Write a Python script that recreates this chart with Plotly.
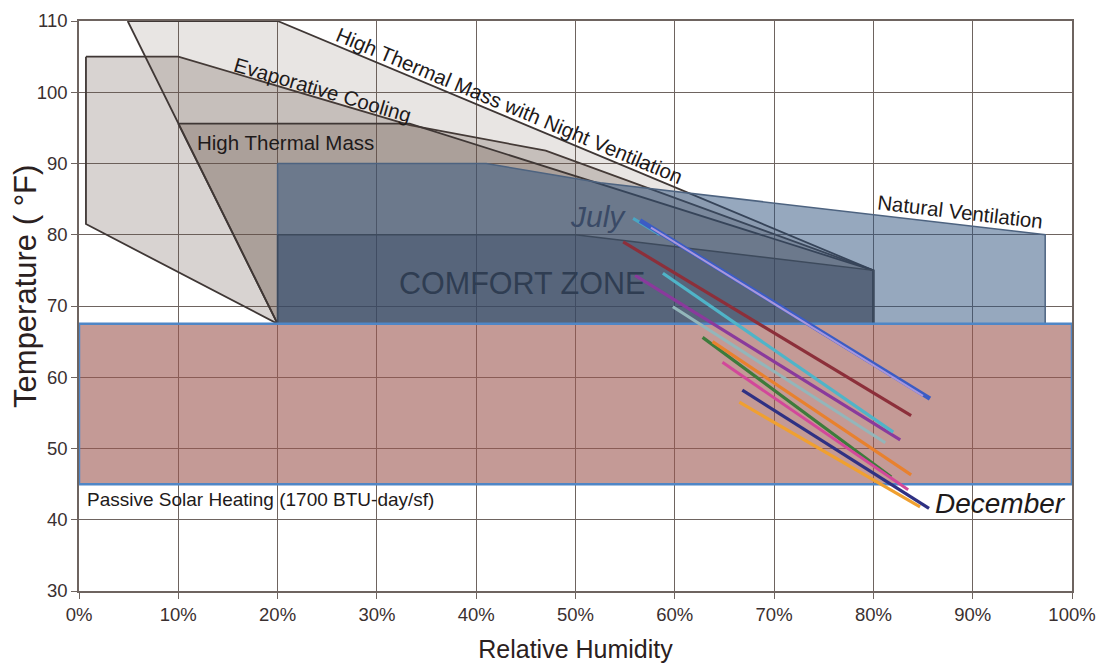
import plotly.graph_objects as go

# ---------------- data ----------------
# Zone boundaries: relative humidity (%) and temperature (°F)
evap_rh = [0.7, 10, 33.3, 47, 80, 80, 20, 0.7]
evap_t = [105, 105, 95.4, 91.8, 75, 67.5, 67.5, 81.5]

night_vent_rh = [4.9, 20, 80, 80, 20]
night_vent_t = [110, 110, 75, 67.5, 67.5]

thermal_mass_rh = [10, 33.3, 80, 80, 20]
thermal_mass_t = [95.6, 95.6, 75, 67.5, 67.5]

natural_vent_rh = [20, 41, 52.5, 97.3, 97.3, 20]
natural_vent_t = [90, 90, 87.3, 80, 67.5, 67.5]

comfort_rh = [20, 50, 80, 80, 20]
comfort_t = [80, 80, 75, 67.5, 67.5]

solar_rh = [0, 100, 100, 0]
solar_t = [45, 45, 67.5, 67.5]

# Monthly climate lines (low-RH/high-T end to high-RH/low-T end)
month_rh_start = [55.8, 56.5, 57.6, 54.8, 56.0, 58.8, 59.8, 62.8, 63.8, 64.8, 66.5, 66.8]
month_t_start = [82.3, 82.0, 81.0, 79.0, 74.3, 74.6, 69.9, 65.6, 65.0, 62.1, 56.5, 58.2]
month_rh_end = [58.5, 85.7, 85.0, 83.8, 82.7, 82.0, 81.2, 81.8, 83.8, 83.5, 84.7, 85.6]
month_t_end = [80.0, 57.0, 57.4, 54.6, 51.2, 52.3, 50.8, 46.0, 46.3, 44.2, 41.8, 41.6]
month_colors = ["#4aa6c4", "#3b5cc4", "#a896dc", "#8c2f3a", "#8a3a9c", "#4fb4c8", "#93b6ba",
                "#3d7b3b", "#e8812e", "#d2489a", "#f0a030", "#2f3183"]
month_widths = [3, 4.5, 2, 3.2, 3.2, 3.2, 3, 3.2, 3.2, 3, 3.2, 3.2]

x_ticks = [0, 10, 20, 30, 40, 50, 60, 70, 80, 90, 100]
y_ticks = [30, 40, 50, 60, 70, 80, 90, 100, 110]

FONT = "Liberation Sans, Arial, Helvetica, sans-serif"


def closed(a):
    return list(a) + [a[0]]


fig = go.Figure()

def polygon(xs, ys, fill, line_color, width=1.8):
    fig.add_trace(go.Scatter(
        x=closed(xs), y=closed(ys), mode="lines", fill="toself",
        fillcolor=fill, line=dict(color=line_color, width=width),
        hoverinfo="skip", showlegend=False))

polygon(evap_rh, evap_t, "rgba(100,80,70,0.25)", "#3f3735")
polygon(night_vent_rh, night_vent_t, "rgba(100,80,70,0.15)", "#3f3735")
polygon(thermal_mass_rh, thermal_mass_t, "rgba(100,80,70,0.28)", "#3f3735")
polygon(natural_vent_rh, natural_vent_t, "rgba(45,81,125,0.5)", "#4d6380", 1.5)
polygon(comfort_rh, comfort_t, "rgba(40,55,85,0.3)", "#3d4a5c", 1.5)
polygon(solar_rh, solar_t, "rgba(157,87,80,0.6)", "#4f86c6", 2.5)

for i in range(len(month_colors)):
    fig.add_trace(go.Scatter(
        x=[month_rh_start[i], month_rh_end[i]],
        y=[month_t_start[i], month_t_end[i]],
        mode="lines", line=dict(color=month_colors[i], width=month_widths[i]),
        hoverinfo="skip", showlegend=False))

labels = [
    dict(x=43.4, y=98.2, text="High Thermal Mass with Night Ventilation", textangle=22.7, size=20.5, color="#1e1a1a", italic=False),
    dict(x=24.5, y=100.4, text="Evaporative Cooling", textangle=16.4, size=20.5, color="#1e1a1a", italic=False),
    dict(x=20.8, y=93.0, text="High Thermal Mass", textangle=0, size=20.5, color="#1e1a1a", italic=False),
    dict(x=88.7, y=83.3, text="Natural Ventilation", textangle=6.7, size=20.5, color="#1e1a1a", italic=False),
    dict(x=44.6, y=73.2, text="COMFORT ZONE", textangle=0, size=30.5, color="#2f3d52", italic=False),
    dict(x=52.3, y=82.6, text="July", textangle=0, size=30, color="#3a4a66", italic=True),
]
for lb in labels:
    txt = f"<i>{lb['text']}</i>" if lb["italic"] else lb["text"]
    fig.add_annotation(x=lb["x"], y=lb["y"], xref="x", yref="y", text=txt,
                       textangle=lb["textangle"], showarrow=False,
                       font=dict(family=FONT, size=lb["size"], color=lb["color"]))

fig.add_annotation(x=86.0, y=42.3, xref="x", yref="y", text="<i>December</i>",
                   xanchor="left", showarrow=False,
                   font=dict(family=FONT, size=28, color="#1e1a1a"))
fig.add_annotation(x=0.6, y=42.8, xref="x", yref="y",
                   text="Passive Solar Heating (1700 BTU-day/sf)",
                   xanchor="left", showarrow=False,
                   font=dict(family=FONT, size=19, color="#1e1a1a"))
# y-axis title (placed slightly above the axis centre, as in the reference)
fig.add_annotation(x=-0.0545, y=0.535, xref="paper", yref="paper",
                   xanchor="center", yanchor="middle",
                   text="Temperature ( °F)", textangle=-90, showarrow=False,
                   font=dict(family=FONT, size=31, color="#2a2020"))

fig.update_layout(
    width=1107, height=664,
    margin=dict(l=79, r=35, t=21, b=73),
    paper_bgcolor="white", plot_bgcolor="white",
    font=dict(family=FONT, color="#2a2020"),
    showlegend=False,
)
fig.update_xaxes(
    range=[0, 100], tickvals=x_ticks, ticktext=[f"{v}%" for v in x_ticks],
    showgrid=True, gridcolor="#6e6460", gridwidth=1.4,
    showline=True, linecolor="#6e6460", linewidth=1.6, mirror=True,
    ticks="outside", ticklen=6, tickcolor="#6e6460",
    tickfont=dict(size=18.5, color="#3a3030"),
    title=dict(text="Relative Humidity", font=dict(size=25, color="#2a2020"), standoff=16),
    zeroline=False, automargin=False,
)
fig.update_yaxes(
    range=[30, 110], tickvals=y_ticks,
    showgrid=True, gridcolor="#6e6460", gridwidth=1.4,
    showline=True, linecolor="#6e6460", linewidth=1.6, mirror=True,
    ticks="outside", ticklen=6, tickcolor="#6e6460",
    tickfont=dict(size=18.5, color="#3a3030"),
    zeroline=False, automargin=False,
)

fig.write_html("out.html", config={"displayModeBar": False},
               post_script="document.body.style.margin='0px';")
